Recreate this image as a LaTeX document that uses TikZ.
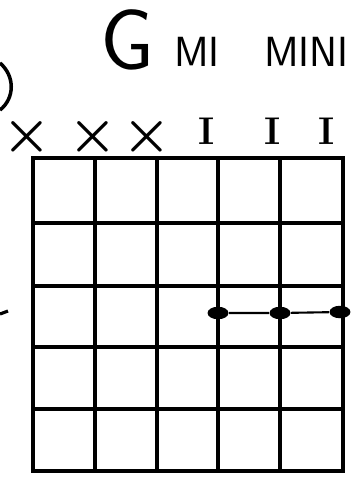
\documentclass[tikz,border=0pt]{standalone}
\usepackage{bm}
\usetikzlibrary{shapes.geometric}
\begin{document}
\begin{tikzpicture}[x=0.02cm, y=-0.02cm,
        gridline/.style={line width=1.8pt},
        mutemark/.style={font=\fontsize{17}{17}\selectfont, inner sep=0},
        stringmark/.style={font=\bfseries\fontsize{22}{22}\selectfont, inner sep=0},
        fingerdot/.style={ellipse, fill, minimum width=0.42cm, minimum height=0.25cm, inner sep=0}]
        \useasboundingbox (0,0) rectangle (356,478);

        % Title
        \node[font=\sffamily\fontsize{49}{49}\selectfont, anchor=base west, inner sep=0] (gname) at (100,69) {G};
        \node[font=\sffamily\fontsize{24}{24}\selectfont, anchor=base west, inner sep=0] (mi) at (174,66) {MI};
        \node[font=\sffamily\fontsize{24}{24}\selectfont, anchor=base west, inner sep=0] (mini) at (264,66) {MINI};

        % Cut-off marks at the left edge
        \draw[line width=2pt] (0,63) .. controls (15,76) and (15,98) .. (0,110);
        \draw[line width=1.8pt] (0,314) -- (8,311);

        % String marks
        \node[mutemark] (m1) at (27,137) {\scalebox{1.8}{$\bm\times$}};
        \node[mutemark] (m2) at (93,137) {\scalebox{1.8}{$\bm\times$}};
        \node[mutemark] (m3) at (147,137) {\scalebox{1.8}{$\bm\times$}};
        \node[stringmark] (s4) at (207,131) {I};
        \node[stringmark] (s5) at (273,131) {I};
        \node[stringmark] (s6) at (327,131) {I};

        % Strings
        \draw[gridline] (95,158) -- (95,471);
        \draw[gridline] (157,158) -- (157,471);
        \draw[gridline] (218,158) -- (218,471);
        \draw[gridline] (280,158) -- (280,471);

        % Frets
        \draw[gridline] (33,223) -- (343,223);
        \draw[gridline] (33,286) -- (343,286);
        \draw[gridline] (33,347) -- (343,347);
        \draw[gridline] (33,409) -- (343,409);

        % Frame
        \draw[line width=2.2pt] (33,158) rectangle (343,471);

        % Barre
        \node[fingerdot] (d4) at (218,313) {};
        \node[fingerdot] (d5) at (280,313) {};
        \node[fingerdot] (d6) at (340,312) {};
        \draw[line width=1.2pt] (d4) -- (d5) -- (d6);
    \end{tikzpicture}
\end{document}
